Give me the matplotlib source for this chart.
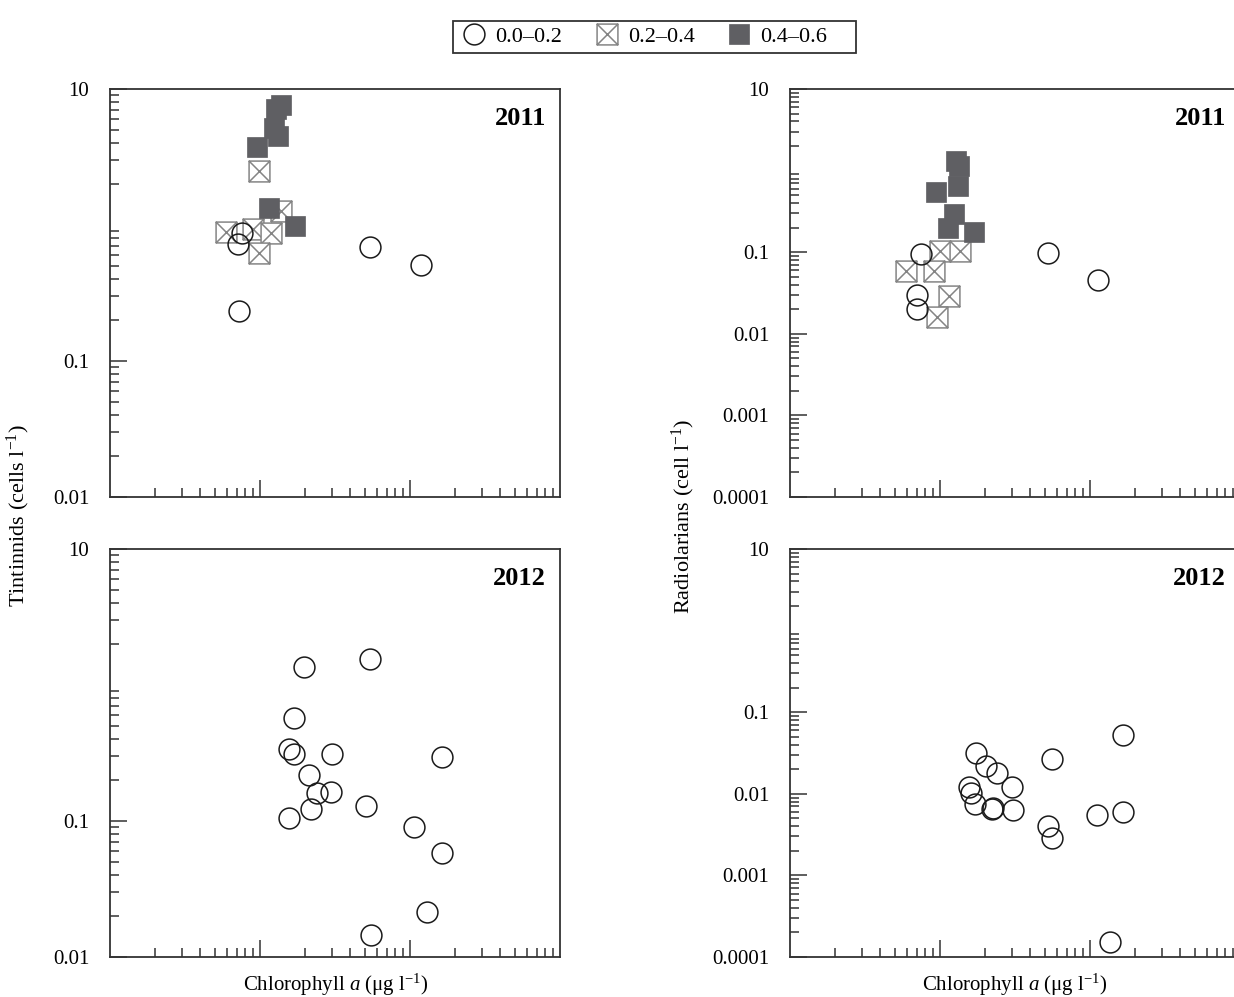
import numpy as np
import matplotlib
matplotlib.use("Agg")
import matplotlib.pyplot as plt
from matplotlib.path import Path
from matplotlib.lines import Line2D
from matplotlib.patches import Rectangle
from matplotlib.ticker import LogLocator, NullFormatter

plt.rcParams['font.family'] = ['Liberation Serif', 'DejaVu Serif']
plt.rcParams['mathtext.fontset'] = 'custom'
plt.rcParams['mathtext.rm'] = 'Liberation Serif'
plt.rcParams['mathtext.it'] = 'Liberation Serif:italic'
plt.rcParams['mathtext.bf'] = 'Liberation Serif:bold'

# ---- data (chl a in ug/l, abundance in cells/l) ----
# 2011 tintinnids
tin11_lo_x = [0.0762, 0.0716, 0.0725, 0.541, 1.18]
tin11_lo_y = [0.87, 0.73, 0.232, 0.69, 0.51]
tin11_mid_x = [0.099, 0.138, 0.0593, 0.0893, 0.118, 0.099]
tin11_mid_y = [2.5, 1.27, 0.89, 0.935, 0.88, 0.62]
tin11_hi_x = [0.1375, 0.127, 0.124, 0.131, 0.095, 0.115, 0.171]
tin11_hi_y = [7.6, 7.1, 5.2, 4.5, 3.75, 1.34, 0.99]

# 2012 tintinnids (only low class)
tin12_lo_x = [0.196, 0.541, 0.168, 0.155, 0.168, 0.301, 1.63, 0.213, 0.239,
              0.298, 0.218, 0.509, 0.155, 1.06, 1.63, 1.29, 0.552]
tin12_lo_y = [1.36, 1.55, 0.575, 0.337, 0.311, 0.309, 0.297, 0.218, 0.161,
              0.163, 0.122, 0.1295, 0.1047, 0.0908, 0.0585, 0.0214, 0.01445]

# 2011 radiolarians
rad11_lo_x = [0.0747, 0.0703, 0.0703, 0.525, 1.13]
rad11_lo_y = [0.0942, 0.0296, 0.0203, 0.098, 0.0457]
rad11_mid_x = [0.0995, 0.136, 0.059, 0.0908, 0.115, 0.095]
rad11_mid_y = [0.104, 0.104, 0.0583, 0.0583, 0.0293, 0.0162]
rad11_hi_x = [0.127, 0.134, 0.131, 0.0935, 0.124, 0.1135, 0.169]
rad11_hi_y = [1.32, 1.14, 0.65, 0.55, 0.294, 0.196, 0.178]

# 2012 radiolarians
rad12_lo_x = [0.173, 0.202, 0.241, 0.556, 1.67, 0.155, 0.160, 0.302, 0.172,
              0.221, 0.226, 0.308, 0.527, 0.556, 1.12, 1.67, 1.35]
rad12_lo_y = [0.0319, 0.0221, 0.0178, 0.0267, 0.0526, 0.01222, 0.01014, 0.0120,
              0.0075, 0.00651, 0.00676, 0.00633, 0.00403, 0.00285, 0.00555,
              0.00598, 0.000154]

classes = ['0.0\u20130.2', '0.2\u20130.4', '0.4\u20130.6']

# square with a cross inside, for the middle class
boxx = Path([(-1, -1), (1, -1), (1, 1), (-1, 1), (-1, -1),
             (-1, -1), (1, 1), (-1, 1), (1, -1)],
            [Path.MOVETO, Path.LINETO, Path.LINETO, Path.LINETO, Path.CLOSEPOLY,
             Path.MOVETO, Path.LINETO, Path.MOVETO, Path.LINETO])

MS = 15
sty_lo = dict(marker='o', markersize=MS, mfc='none', mec='#1a1a1a', mew=1.1, ls='none')
sty_mid = dict(marker=boxx, markersize=MS, mfc='white', mec='#858585', mew=1.1, ls='none')
sty_hi = dict(marker='s', markersize=MS, mfc='#5f5f63', mec='#5f5f63', mew=0.5, ls='none')


def setup_axes(ax, yticks, ylabels, ylim, year):
    ax.set_xscale('log')
    ax.set_yscale('log')
    ax.set_xlim(0.01, 10)
    ax.set_ylim(*ylim)
    ax.set_xticks([0.1, 1])
    ax.set_xticklabels([])
    ax.set_yticks(yticks, labels=ylabels)
    ax.xaxis.set_minor_locator(LogLocator(base=10, subs=np.arange(2, 10), numticks=20))
    ax.yaxis.set_minor_locator(LogLocator(base=10, subs=np.arange(2, 10), numticks=20))
    ax.xaxis.set_minor_formatter(NullFormatter())
    ax.yaxis.set_minor_formatter(NullFormatter())
    ax.tick_params(which='major', direction='in', length=12, width=1.1,
                   color='#333333', labelsize=15, pad=15)
    ax.tick_params(which='minor', direction='in', length=6.3, width=1.1, color='#333333')
    for sp in ax.spines.values():
        sp.set_linewidth(1.3)
        sp.set_color('#333333')
    ax.text(0.969, 0.927, year, transform=ax.transAxes, ha='right', va='center',
            fontsize=19, fontweight='bold')


fig = plt.figure(figsize=(12.34, 9.97), dpi=100)
W, H = 1234.0, 997.0
aw, ah = 450 / W, 408 / H
ax_tl = fig.add_axes([110 / W, 1 - 497 / H, aw, ah])
ax_bl = fig.add_axes([110 / W, 1 - 957 / H, aw, ah])
ax_tr = fig.add_axes([790 / W, 1 - 497 / H, aw, ah])
ax_br = fig.add_axes([790 / W, 1 - 957 / H, aw, ah])

# tintinnids
ax_tl.plot(tin11_mid_x, tin11_mid_y, **sty_mid)
ax_tl.plot(tin11_hi_x, tin11_hi_y, **sty_hi)
ax_tl.plot(tin11_lo_x, tin11_lo_y, **sty_lo)
ax_bl.plot(tin12_lo_x, tin12_lo_y, **sty_lo)

# radiolarians
ax_tr.plot(rad11_mid_x, rad11_mid_y, **sty_mid)
ax_tr.plot(rad11_hi_x, rad11_hi_y, **sty_hi)
ax_tr.plot(rad11_lo_x, rad11_lo_y, **sty_lo)
ax_br.plot(rad12_lo_x, rad12_lo_y, **sty_lo)

tin_ticks = [0.01, 0.1, 10]
tin_labels = ['0.01', '0.1', '10']
rad_ticks = [0.0001, 0.001, 0.01, 0.1, 10]
rad_labels = ['0.0001', '0.001', '0.01', '0.1', '10']
setup_axes(ax_tl, tin_ticks, tin_labels, (0.01, 10), '2011')
setup_axes(ax_bl, tin_ticks, tin_labels, (0.01, 10), '2012')
setup_axes(ax_tr, rad_ticks, rad_labels, (0.0001, 10), '2011')
setup_axes(ax_br, rad_ticks, rad_labels, (0.0001, 10), '2012')

# shared axis titles
fig.text(18 / W, 1 - 516 / H, r'Tintinnids (cells l$^{-1}$)', rotation=90,
         ha='center', va='center', fontsize=16)
fig.text(683 / W, 1 - 516 / H, r'Radiolarians (cell l$^{-1}$)', rotation=90,
         ha='center', va='center', fontsize=16)
fig.text(336 / W, 1 - 985 / H, r'Chlorophyll $a$ ($\mathrm{\mu}$g l$^{-1}$)',
         ha='center', va='center', fontsize=15)
fig.text(1015 / W, 1 - 985 / H, r'Chlorophyll $a$ ($\mathrm{\mu}$g l$^{-1}$)',
         ha='center', va='center', fontsize=15)

# legend without its own frame; the box is drawn separately (wide right margin)
handles = [Line2D([], [], **sty_lo), Line2D([], [], **sty_mid), Line2D([], [], **sty_hi)]
fig.legend(handles, classes, loc='center left', bbox_to_anchor=(463 / W, 1 - 37 / H),
           ncol=3, fontsize=16, frameon=False, handlelength=1.0,
           handletextpad=0.45, columnspacing=1.5, borderpad=0, borderaxespad=0)
fig.patches.append(Rectangle((453 / W, 1 - 53 / H), 403 / W, 32 / H,
                             transform=fig.transFigure, fill=False,
                             edgecolor='#333333', linewidth=1.3))

fig.savefig('out.png', dpi=100)
